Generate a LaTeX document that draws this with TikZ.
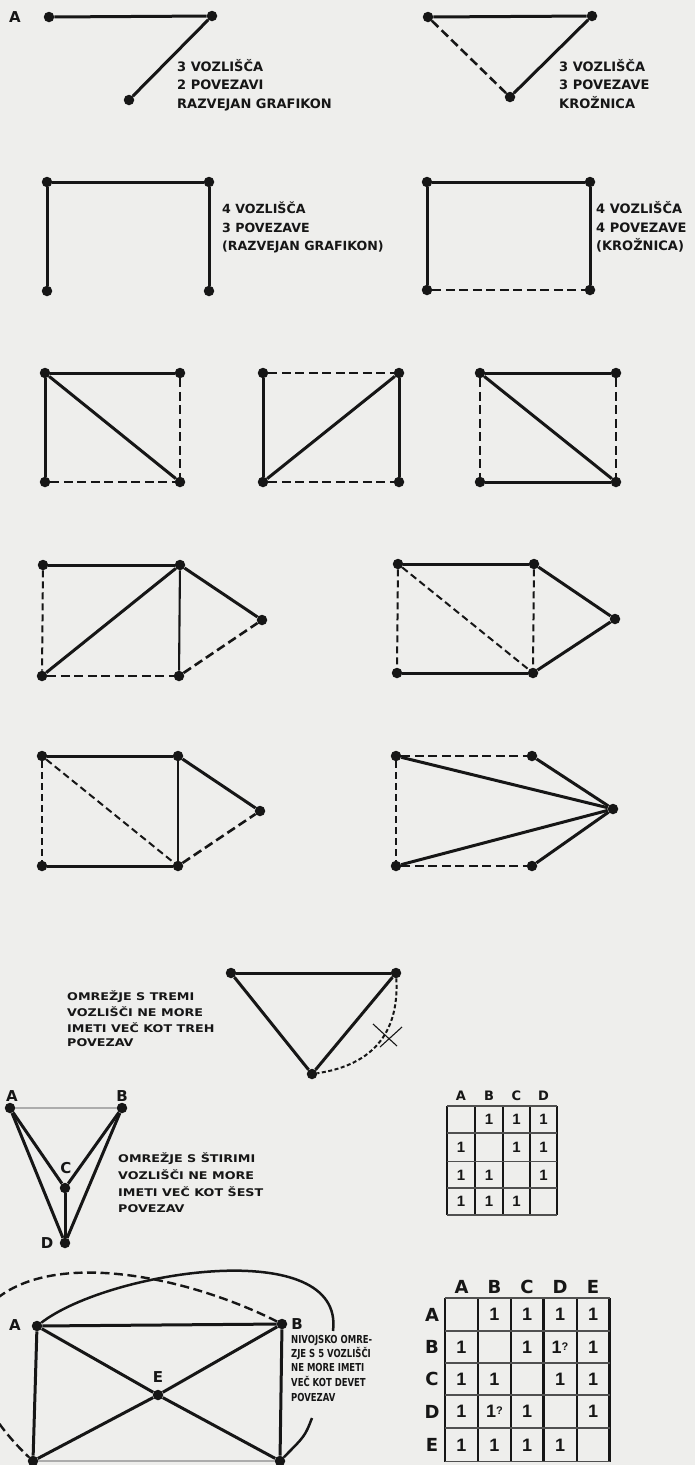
\documentclass[tikz,border=0pt]{standalone}
\usepackage{fontspec}
\setmainfont{DejaVu Sans}
\newfontfamily\fa{DejaVu Sans}
\newfontfamily\fw{DejaVu Sans}[FakeStretch=1.2]
\newfontfamily\fn{DejaVu Sans}[FakeStretch=0.77]
\newfontfamily\fo{Liberation Sans}
\definecolor{paper}{RGB}{238,238,236}
\definecolor{ink}{RGB}{22,22,22}
\tikzset{
  vx/.style={circle,fill=ink,inner sep=0pt,minimum size=10.5pt},
  solidE/.style={draw=ink,line width=3pt},
  thinE/.style={draw=ink,line width=2.1pt},
  dashE/.style={draw=ink,line width=2.6pt,dash pattern=on 9pt off 4.5pt},
  dashT/.style={draw=ink,line width=2pt,dash pattern=on 7pt off 4pt},
  dotE/.style={draw=ink,line width=2pt,dash pattern=on 4pt off 2.5pt},
  faintE/.style={draw=gray!65,line width=1.6pt},
  arcE/.style={draw=ink,line width=2.5pt},
  ta/.style={anchor=base west,inner sep=0pt,text=ink,font=\fa\bfseries\fontsize{13}{13}\selectfont},
  tb/.style={anchor=base west,inner sep=0pt,text=ink,font=\fa\bfseries\fontsize{12.6}{12.6}\selectfont},
  tc/.style={anchor=base west,inner sep=0pt,text=ink,font=\fw\bfseries\fontsize{10.6}{10.6}\selectfont},
  tn/.style={anchor=base west,inner sep=0pt,text=ink,font=\fn\bfseries\fontsize{11}{11}\selectfont},
  lab/.style={inner sep=0pt,text=ink,font=\fa\bfseries\fontsize{15}{15}\selectfont},
  hA/.style={inner sep=0pt,text=ink,font=\fa\bfseries\fontsize{13}{13}\selectfont},
  hB/.style={inner sep=0pt,text=ink,font=\fa\bfseries\fontsize{18}{18}\selectfont},
  oneA/.style={inner sep=0pt,text=ink,font=\fo\bfseries\fontsize{15}{15}\selectfont},
  oneB/.style={inner sep=0pt,text=ink,font=\fo\bfseries\fontsize{18}{18}\selectfont},
  gridV/.style={draw=ink,line width=2.6pt},
  gridH/.style={draw=ink!75,line width=1.8pt},
}
\begin{document}
\begin{tikzpicture}[x=1pt,y=-1pt]
\useasboundingbox (0,0) rectangle (695,1465);
\fill[paper] (0,0) rectangle (695,1465);
\clip (0,0) rectangle (695,1465);

% ---------- Row 1 ----------
\node[lab] (lA) at (15,17) {A};
\node[vx] (g1a) at (49,17) {};
\node[vx] (g1b) at (212,16) {};
\node[vx] (g1c) at (129,100) {};
\draw[solidE] (g1a) -- (g1b);
\draw[solidE] (g1b) -- (g1c);
\node[ta] (t1a) at (177,71) {3 VOZLIŠČA};
\node[ta] (t1b) at (177,89) {2 POVEZAVI};
\node[ta] (t1c) at (177,108) {RAZVEJAN GRAFIKON};

\node[vx] (g2a) at (428,17) {};
\node[vx] (g2b) at (592,16) {};
\node[vx] (g2c) at (510,97) {};
\draw[solidE] (g2a) -- (g2b);
\draw[dashE] (g2a) -- (g2c);
\draw[solidE] (g2b) -- (g2c);
\node[ta] (t2a) at (559,71) {3 VOZLIŠČA};
\node[ta] (t2b) at (559,89) {3 POVEZAVE};
\node[ta] (t2c) at (559,108) {KROŽNICA};

% ---------- Row 2 ----------
\node[vx] (g3a) at (47,182) {};
\node[vx] (g3b) at (209,182) {};
\node[vx] (g3c) at (47,291) {};
\node[vx] (g3d) at (209,291) {};
\draw[solidE] (g3a) -- (g3b);
\draw[solidE] (g3a) -- (g3c);
\draw[solidE] (g3b) -- (g3d);
\node[tb] (t3a) at (222,213) {4 VOZLIŠČA};
\node[tb] (t3b) at (222,232) {3 POVEZAVE};
\node[tb] (t3c) at (222,250) {(RAZVEJAN GRAFIKON)};

\node[vx] (g4a) at (427,182) {};
\node[vx] (g4b) at (590,182) {};
\node[vx] (g4c) at (427,290) {};
\node[vx] (g4d) at (590,290) {};
\draw[solidE] (g4a) -- (g4b);
\draw[solidE] (g4a) -- (g4c);
\draw[solidE] (g4b) -- (g4d);
\draw[dashE] (g4c) -- (g4d);
\node[ta] (t4a) at (596,213) {4 VOZLIŠČA};
\node[ta] (t4b) at (596,232) {4 POVEZAVE};
\node[ta] (t4c) at (596,250) {(KROŽNICA)};

% ---------- Row 3 ----------
\node[vx] (g5a) at (45,373) {};
\node[vx] (g5b) at (180,373) {};
\node[vx] (g5c) at (45,482) {};
\node[vx] (g5d) at (180,482) {};
\draw[solidE] (g5a) -- (g5b);
\draw[solidE] (g5a) -- (g5c);
\draw[solidE] (g5a) -- (g5d);
\draw[dashE] (g5b) -- (g5d);
\draw[dashE] (g5c) -- (g5d);

\node[vx] (g6a) at (263,373) {};
\node[vx] (g6b) at (399,373) {};
\node[vx] (g6c) at (263,482) {};
\node[vx] (g6d) at (399,482) {};
\draw[dashE] (g6a) -- (g6b);
\draw[solidE] (g6a) -- (g6c);
\draw[solidE] (g6c) -- (g6b);
\draw[solidE] (g6b) -- (g6d);
\draw[dashE] (g6c) -- (g6d);

\node[vx] (g7a) at (480,373) {};
\node[vx] (g7b) at (616,373) {};
\node[vx] (g7c) at (480,482) {};
\node[vx] (g7d) at (616,482) {};
\draw[solidE] (g7a) -- (g7b);
\draw[dashE] (g7a) -- (g7c);
\draw[solidE] (g7a) -- (g7d);
\draw[dashE] (g7b) -- (g7d);
\draw[solidE] (g7c) -- (g7d);

% ---------- Row 4 ----------
\node[vx] (g8a) at (43,565) {};
\node[vx] (g8b) at (180,565) {};
\node[vx] (g8c) at (42,676) {};
\node[vx] (g8d) at (179,676) {};
\node[vx] (g8e) at (262,620) {};
\draw[solidE] (g8a) -- (g8b);
\draw[dashT] (g8a) -- (g8c);
\draw[solidE] (g8c) -- (g8b);
\draw[thinE] (g8b) -- (g8d);
\draw[solidE] (g8b) -- (g8e);
\draw[dashE] (g8c) -- (g8d);
\draw[dashE] (g8d) -- (g8e);

\node[vx] (g9a) at (398,564) {};
\node[vx] (g9b) at (534,564) {};
\node[vx] (g9c) at (397,673) {};
\node[vx] (g9d) at (533,673) {};
\node[vx] (g9e) at (615,619) {};
\draw[solidE] (g9a) -- (g9b);
\draw[dashT] (g9a) -- (g9c);
\draw[dashT] (g9a) -- (g9d);
\draw[dashT] (g9b) -- (g9d);
\draw[solidE] (g9b) -- (g9e);
\draw[solidE] (g9d) -- (g9e);
\draw[solidE] (g9c) -- (g9d);

% ---------- Row 5 ----------
\node[vx] (g10a) at (42,756) {};
\node[vx] (g10b) at (178,756) {};
\node[vx] (g10c) at (42,866) {};
\node[vx] (g10d) at (178,866) {};
\node[vx] (g10e) at (260,811) {};
\draw[solidE] (g10a) -- (g10b);
\draw[dashT] (g10a) -- (g10c);
\draw[dashT] (g10a) -- (g10d);
\draw[thinE] (g10b) -- (g10d);
\draw[solidE] (g10b) -- (g10e);
\draw[dashE] (g10d) -- (g10e);
\draw[solidE] (g10c) -- (g10d);

\node[vx] (g11a) at (396,756) {};
\node[vx] (g11b) at (532,756) {};
\node[vx] (g11c) at (396,866) {};
\node[vx] (g11d) at (532,866) {};
\node[vx] (g11e) at (613,809) {};
\draw[dashE] (g11a) -- (g11b);
\draw[dashT] (g11a) -- (g11c);
\draw[dashE] (g11c) -- (g11d);
\draw[solidE] (g11a) -- (g11e);
\draw[solidE] (g11b) -- (g11e);
\draw[solidE] (g11c) -- (g11e);
\draw[solidE] (g11d) -- (g11e);

% ---------- Row 6 ----------
\node[vx] (tl) at (231,973) {};
\node[vx] (tr) at (396,973) {};
\node[vx] (tb) at (312,1074) {};
\draw[solidE] (tl) -- (tr);
\draw[solidE] (tl) -- (tb);
\draw[solidE] (tr) -- (tb);
\draw[dotE] (tr) .. controls (398,1010) and (392,1062) .. (tb);
\draw[ink,line width=1.1pt] (373,1024) -- (397,1046);
\draw[ink,line width=1.1pt] (380,1047) -- (402,1027);
\node[tc] (t6a) at (67,1000) {OMREŽJE S TREMI};
\node[tc] (t6b) at (67,1016) {VOZLIŠČI NE MORE};
\node[tc] (t6c) at (67,1032) {IMETI VEČ KOT TREH};
\node[tc] (t6d) at (67,1046) {POVEZAV};

% ---------- Row 7 ----------
\node[vx] (kA) at (10,1108) {};
\node[vx] (kB) at (122,1108) {};
\node[vx] (kC) at (65,1188) {};
\node[vx] (kD) at (65,1243) {};
\node[lab] (lkA) at (12,1096) {A};
\node[lab] (lkB) at (122,1096) {B};
\node[lab] (lkC) at (66,1168) {C};
\node[lab] (lkD) at (47,1243) {D};
\draw[faintE] (kA) -- (kB);
\draw[solidE] (kA) -- (kC);
\draw[solidE] (kB) -- (kC);
\draw[solidE] (kA) -- (kD);
\draw[solidE] (kB) -- (kD);
\draw[solidE] (kC) -- (kD);
\node[tc] (t7a) at (118,1162) {OMREŽJE S ŠTIRIMI};
\node[tc] (t7b) at (118,1179) {VOZLIŠČI NE MORE};
\node[tc] (t7c) at (118,1196) {IMETI VEČ KOT ŠEST};
\node[tc] (t7d) at (118,1212) {POVEZAV};

% ---------- Matrix 1 ----------
\foreach \x in {447,475,503,530,557} \draw[gridV] (\x,1106) -- (\x,1215);
\foreach \y in {1106,1133,1161.5,1188,1215} \draw[gridH] (447,\y) -- (557,\y);
\foreach \h/\x in {A/461,B/489,C/516.5,D/543.5} \node[hA] (m1h\h) at (\x,1096) {\h};
\foreach \r/\y/\list in {1/1119.5/{0,1,1,1},2/1147/{1,0,1,1},3/1175/{1,1,0,1},4/1201.5/{1,1,1,0}}{
  \foreach \v [count=\c] in \list {
    \ifnum\v=1
      \pgfmathsetmacro{\cx}{{461,489,516.5,543.5}[\c-1]}
      \node[oneA] (m1c\r\c) at (\cx,\y) {1};
    \fi
  }
}

% ---------- Bottom graph ----------
\node[vx] (bA) at (37,1326) {};
\node[vx] (bB) at (282,1324) {};
\node[vx] (bE) at (158,1395) {};
\node[vx] (bC) at (33,1461) {};
\node[vx] (bD) at (280,1461) {};
\node[lab] (lbA) at (15,1325) {A};
\node[lab] (lbB) at (297,1324) {B};
\node[lab] (lbE) at (158,1377) {E};
\draw[solidE] (bA) -- (bB);
\draw[solidE] (bA) -- (bC);
\draw[solidE] (bB) -- (bD);
\draw[solidE] (bA) -- (bE);
\draw[solidE] (bE) -- (bD);
\draw[solidE] (bB) -- (bE);
\draw[solidE] (bE) -- (bC);
\draw[faintE] (bC) -- (bD);
\coordinate (arcA) at (333,1331);
\coordinate (arcB) at (312,1418);
\draw[arcE] (bA) .. controls (110,1270) and (345,1235) .. (arcA);
\draw[arcE] (arcB) .. controls (305,1436) .. (bD);
\coordinate (farL) at (-15,1310);
\draw[dashE,line width=2.4pt] (bB) .. controls (185,1275) and (40,1245) .. (farL)
      .. controls (-50,1370) and (0,1430) .. (bC);
\node[tn] (t8a) at (291,1343) {NIVOJSKO OMRE-};
\node[tn] (t8b) at (291,1357) {ZJE S 5 VOZLIŠČI};
\node[tn] (t8c) at (291,1371) {NE MORE IMETI};
\node[tn] (t8d) at (291,1386) {VEČ KOT DEVET};
\node[tn] (t8e) at (291,1401) {POVEZAV};

% ---------- Matrix 2 ----------
\foreach \x in {445,478,511,543.5,577,609.5} \draw[gridV] (\x,1298) -- (\x,1461.5);
\foreach \y in {1298,1331,1363,1395,1428,1461.5} \draw[gridH] (445,\y) -- (609.5,\y);
\foreach \h/\x in {A/461.5,B/494.5,C/527,D/560,E/593} \node[hB] (m2h\h) at (\x,1287) {\h};
\foreach \h/\y in {A/1314.5,B/1347,C/1379,D/1411.5,E/1445} \node[hB] (m2r\h) at (432,\y) {\h};
\foreach \r/\y/\list in {1/1314.5/{0,1,1,1,1},2/1347/{1,0,1,2,1},3/1379/{1,1,0,1,1},4/1411.5/{1,2,1,0,1},5/1445/{1,1,1,1,0}}{
  \foreach \v [count=\c] in \list {
    \pgfmathsetmacro{\cx}{{461.5,494.5,527,560,593}[\c-1]}
    \ifnum\v=1
      \node[oneB] (m2c\r\c) at (\cx,\y) {1};
    \fi
    \ifnum\v=2
      \node[oneB] (m2c\r\c) at (\cx,\y) {1\raisebox{3pt}{\fontsize{11}{11}\selectfont ?}};
    \fi
  }
}
\end{tikzpicture}
\end{document}
